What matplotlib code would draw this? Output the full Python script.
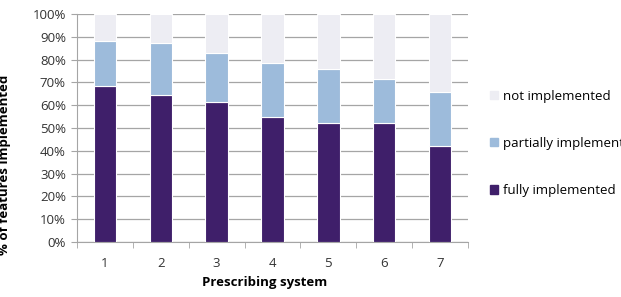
import numpy as np
import matplotlib.pyplot as plt
from matplotlib.patches import Patch

# Data (percent of features)
systems = ['1', '2', '3', '4', '5', '6', '7']
fully = [68.5, 64.5, 61.5, 55, 52, 52, 42]
partially = [19.8, 22.6, 21.2, 23.4, 24, 19.7, 24]
not_impl = [100 - f - p for f, p in zip(fully, partially)]

c_fully = '#3f1f6a'
c_part = '#9dbbdb'
c_not = '#ededf3'
grid_c = '#a5a5a5'

plt.rcParams['font.family'] = ['Open Sans', 'DejaVu Sans']
fs = 9.5

fig = plt.figure(figsize=(6.21, 2.97), dpi=100)
ax = fig.add_axes([77 / 621, 1 - 242 / 297, 391 / 621, 228 / 297])

x = np.arange(len(systems))
w = 0.4
ax.bar(x, fully, w, color=c_fully, edgecolor='white', linewidth=0.8, zorder=3)
ax.bar(x, partially, w, bottom=fully, color=c_part, edgecolor='white', linewidth=0.8, zorder=3)
bottom2 = [f + p for f, p in zip(fully, partially)]
ax.bar(x, not_impl, w, bottom=bottom2, color=c_not, edgecolor='white', linewidth=0.8, zorder=3)

ax.set_xlim(-0.5, len(systems) - 0.5)
ax.set_ylim(0, 100)
ax.set_yticks(range(0, 101, 10))
ax.set_yticklabels([f'{v}%' for v in range(0, 101, 10)], fontsize=fs, color='#333333')
ax.yaxis.grid(True, color=grid_c, linewidth=0.9, zorder=0)

ax.set_xticks(x)
ax.set_xticklabels(systems, fontsize=fs, color='#333333')
ax.set_xticks(np.arange(-0.5, len(systems), 1), minor=True)
ax.tick_params(axis='x', which='major', length=0, pad=11)
ax.tick_params(axis='x', which='minor', length=4, color=grid_c)
ax.tick_params(axis='y', length=4, color=grid_c, pad=4)

for s in ['top', 'right']:
    ax.spines[s].set_visible(False)
for s in ['left', 'bottom']:
    ax.spines[s].set_color(grid_c)

ax.set_xlabel('Prescribing system', fontsize=fs, fontweight='bold', labelpad=0)
ax.xaxis.set_label_coords(0.48, -0.15)

fig.text(0.008, 1 - 165 / 297, '% of features implemented', rotation=90,
         fontsize=fs, fontweight='bold', ha='center', va='center')

handles = [Patch(color=c_not), Patch(color=c_part), Patch(color=c_fully)]
labels = ['not implemented', 'partially implemented', 'fully implemented']
fig.legend(handles, labels, loc='upper left', bbox_to_anchor=(483 / 621, 1 - 83 / 297),
           frameon=False, fontsize=fs, handlelength=0.6, handleheight=0.6,
           handletextpad=0.4, labelspacing=2.6, borderpad=0)

fig.savefig('out.png', dpi=100)
